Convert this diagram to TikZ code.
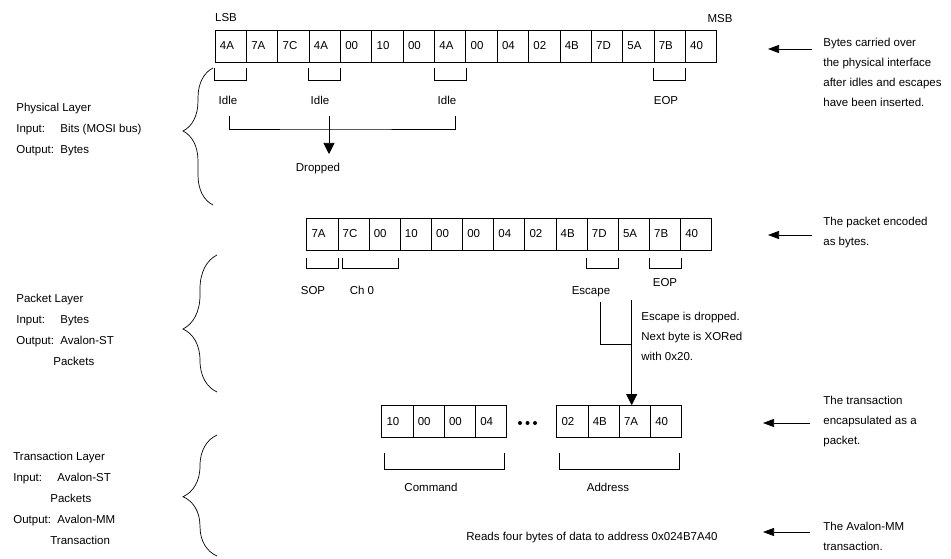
\documentclass[tikz,border=0pt]{standalone}
\usepackage{fontspec}
\setmainfont{Liberation Sans}
\usetikzlibrary{arrows.meta,decorations.pathreplacing,calc}

% bracket under a run of cells: [inset]{first}{last}{gap}{depth}
\newcommand{\brk}[5][0pt]{\draw ([xshift=#1,yshift=-#4]#2.south west) |- ([xshift=-#1,yshift=-#5]#3.south east) -- ([xshift=-#1,yshift=-#4]#3.south east);}
\newcommand{\field}[1]{\makebox[44pt][l]{#1}}
\newcommand{\indnt}{\hspace*{37pt}}

\begin{document}
\begin{tikzpicture}[x=1pt,y=-1pt,
        font=\fontsize{11.5}{20}\selectfont,
        line width=0.7pt,
        every node/.style={inner sep=1pt},
        cell/.style={
        draw, minimum width=#1, minimum height=32,
        inner xsep=4.5pt, text width=21.5pt, align=left},
        lbl/.style={text height=8.4pt, text depth=0pt},
        layer/.style={anchor=west, align=left,
        font=\fontsize{11.5}{21}\selectfont},
        note/.style={anchor=west, align=left},
        ptr/.style={-{Triangle[length=11pt,width=8pt]}},
        downarr/.style={-{Triangle[length=11pt,width=11pt]}},
        ]
        \useasboundingbox (0,0) rectangle (951,559);

        % layers
        \node[layer] (phys) at (15,130) {Physical Layer\\\field{Input:}Bits (MOSI bus)\\\field{Output:}Bytes};
        \node[layer] (pkt) at (15,330) {Packet Layer\\\field{Input:}Bytes\\\field{Output:}Avalon-ST\\\indnt Packets};
        \node[layer] (trans) at (12,498) {Transaction Layer\\\field{Input:}Avalon-ST\\\indnt Packets\\\field{Output:}Avalon-MM\\\indnt Transaction};

        \draw [decorate, decoration={brace, amplitude=30pt, aspect=0.54}] (213,205) -- (213,68);
        \draw [decorate, decoration={brace, amplitude=34pt, aspect=0.46}] (217,392) -- (217,255);
        \draw [decorate, decoration={brace, amplitude=34pt, aspect=0.49}] (217,556) -- (217,435);

        % physical bytes
        \foreach \b [count=\i] in {4A,7A,7C,4A,00,10,00,4A,00,04,02,4B,7D,5A,7B,40}
            \node[cell=31.35] (t\i) at ({215+31.35*(\i-0.5)},46) {\b};
        \node[lbl] (lsb) at (226,17.5) {LSB};
        \node[lbl] (msb) at (720,18) {MSB};

        \brk{t1}{t1}{6pt}{18pt}
        \brk{t4}{t4}{6pt}{18pt}
        \brk{t8}{t8}{6pt}{18pt}
        \brk{t15}{t15}{6pt}{18pt}

        \node[lbl] (idle1) at (228,100) {Idle};
        \node[lbl] (idle2) at (320,100) {Idle};
        \node[lbl] (idle3) at (447,100) {Idle};
        \node[lbl] (eop1) at (666,100) {EOP};
        \node[lbl] (dropped) at (318,167) {Dropped};

        \coordinate (j1) at (229,116);
        \coordinate (j2) at (329,116);
        \coordinate (j3) at (455,116);
        \coordinate (merge) at (329,129);
        \coordinate (drop) at (329,154);
        \draw (j1) |- (merge) -| (j3);
        \draw (j2) -- (merge);
        \draw [downarr] (merge) -- (drop);

        % packet bytes
        \foreach \b [count=\i] in {7A,7C,00,10,00,00,04,02,4B,7D,5A,7B,40}
            \node[cell=31.15] (m\i) at ({306.7+31.15*(\i-0.5)},234) {\b};

        \brk{m1}{m1}{8pt}{18pt}
        \draw ([xshift=4.4pt,yshift=-8pt]m2.south west) |- ([xshift=-2.6pt,yshift=-18pt]m3.south east) -- ([xshift=-2.6pt,yshift=-8pt]m3.south east);
        \brk{m10}{m10}{8pt}{18pt}
        \brk{m12}{m12}{8pt}{18pt}

        \node[lbl] (sop) at (313,290) {SOP};
        \node[lbl] (ch) at (362,290) {Ch 0};
        \node[lbl] (esc) at (591,290) {Escape};
        \node[lbl] (eop2) at (665,282) {EOP};

        \coordinate (e1) at (600.7,302);
        \coordinate (e2) at (631.7,344);
        \coordinate (xor) at (631.7,300);
        \draw (e1) |- (e2);
        \node[note] (xornote) at (640,336) {Escape is dropped.\\Next byte is XORed\\with 0x20.};

        % transaction bytes
        \foreach \b [count=\i] in {10,00,00,04}
            \node[cell=31.25] (c\i) at ({381.7+31.25*(\i-0.5)},421.5) {\b};
        \foreach \b [count=\i] in {02,4B,7A,40}
            \node[cell=31.25] (a\i) at ({556.7+31.25*(\i-0.5)},421.5) {\b};
        \foreach \x in {520,527.5,535}
            \fill (\x,423) circle (2);

        \draw [downarr] (xor) -- (xor |- a3.north);

        \brk[2.5pt]{c1}{c4}{15pt}{31pt}
        \brk[2.5pt]{a1}{a4}{15pt}{31pt}
        \node[lbl] (cmd) at (431,487) {Command};
        \node[lbl] (addr) at (608,487) {Address};
        \node[lbl] (reads) at (592,536) {Reads four bytes of data to address 0x024B7A40};

        % notes on the right
        \node[note] (note1) at (822,72.7) {Bytes carried over\\the physical interface\\after idles and escapes\\have been inserted.};
        \node[note] (note2) at (822,233) {The packet encoded\\as bytes.};
        \node[note] (note3) at (822,422) {The transaction\\encapsulated as a\\packet.};
        \node[note] (note4) at (822,536) {The Avalon-MM\\transaction.};

        \foreach \n/\y/\a/\b in {1/49/812/768, 2/235/812/768, 3/423/810/763, 4/532/810/763}{
            \coordinate (from\n) at (\a,\y);
            \coordinate (to\n) at (\b,\y);
            \draw [ptr] (from\n) -- (to\n);
        }
    \end{tikzpicture}
\end{document}
